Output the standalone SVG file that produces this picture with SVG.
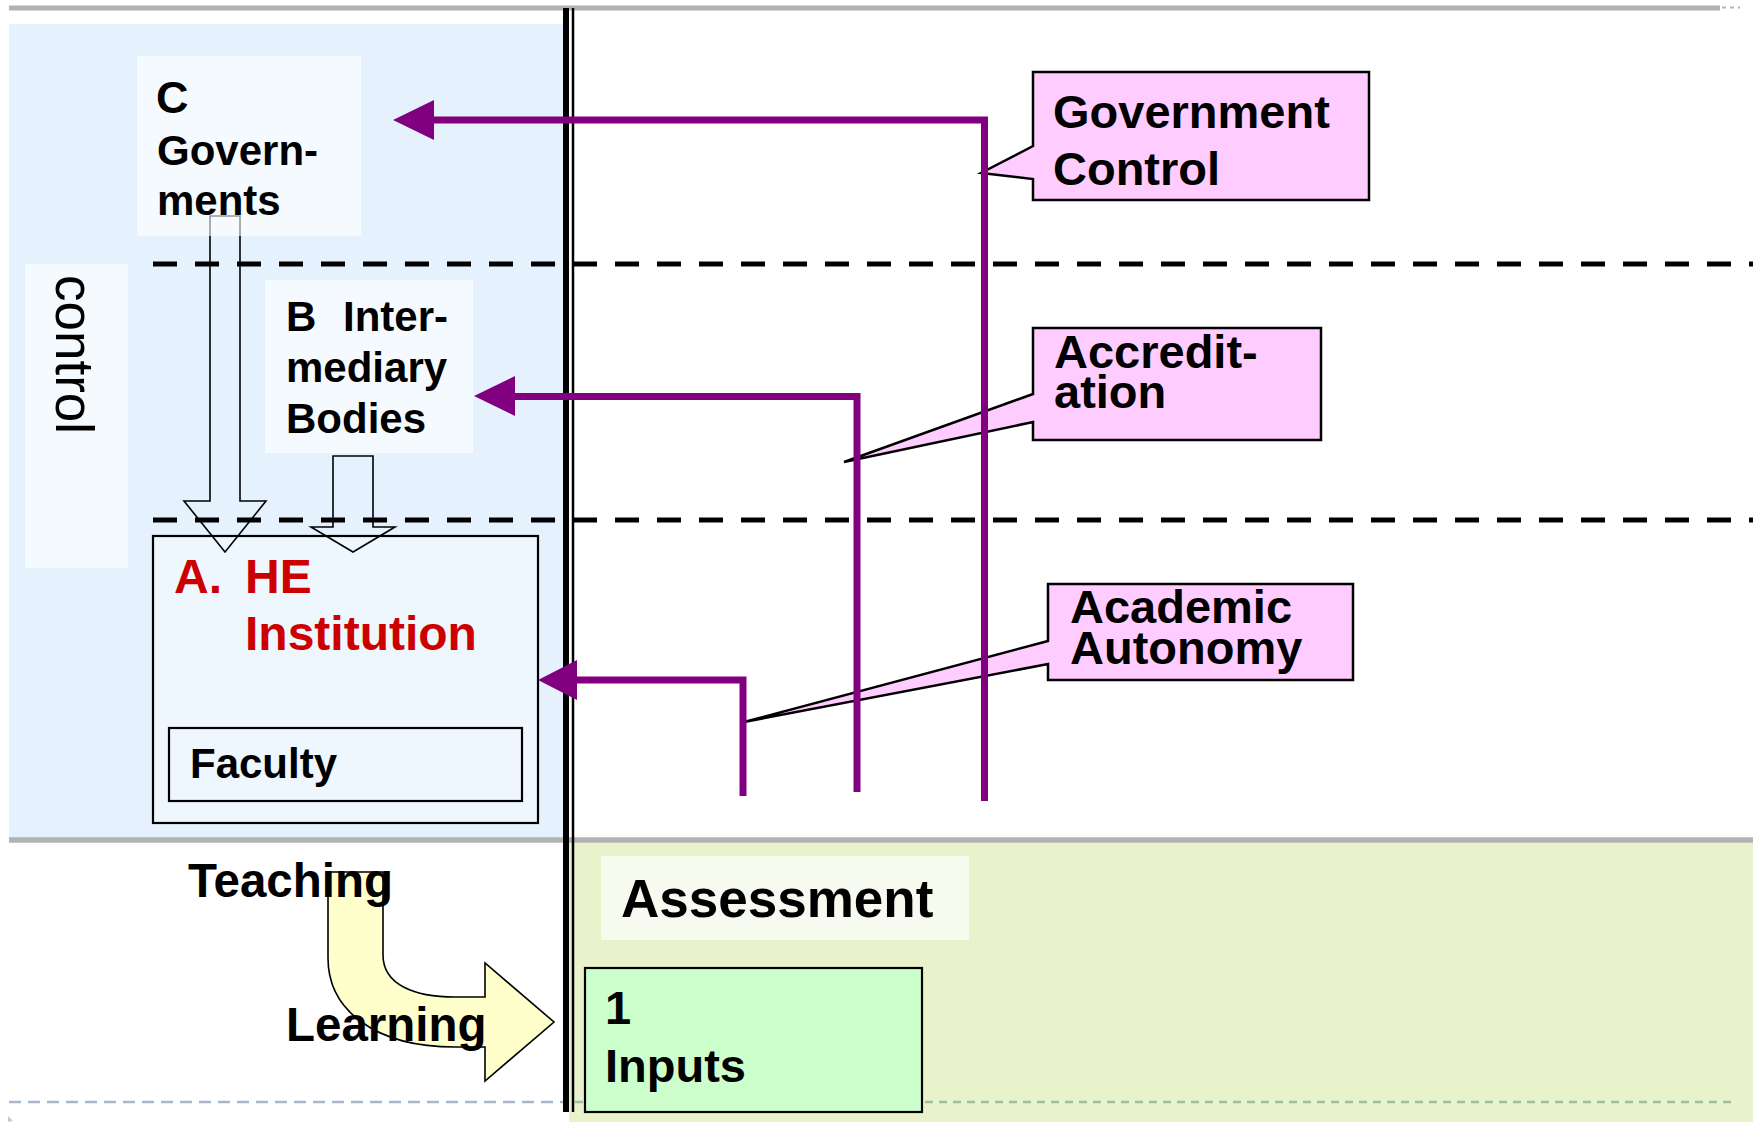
<svg xmlns="http://www.w3.org/2000/svg" width="1756" height="1122" viewBox="0 0 1756 1122">
<defs>
<style>
.t{font-family:"Liberation Sans",Arial,Helvetica,sans-serif;font-weight:bold;fill:#000}
.reg{font-weight:normal}
.red{fill:#cc0000}
.pl{fill:none;stroke:#800080;stroke-width:7;stroke-linejoin:miter}
.ph{fill:#800080}
.callout{fill:#ffccff;stroke:#000;stroke-width:2.5;stroke-linejoin:miter}
.hollow{fill:none;stroke:#000;stroke-width:1.6}
.dash{stroke:#000;stroke-width:5;stroke-dasharray:24 18;fill:none}
.panel{fill:#ffffff;fill-opacity:0.6}
.box{fill:#eff7fe;stroke:#000;stroke-width:2.2}
</style>
</defs>
<rect width="1756" height="1122" fill="#ffffff"/>
<g id="backgrounds">
<rect x="9" y="24" width="557" height="814" fill="#e5f2fd"/>
<rect x="569" y="843" width="1184" height="279" fill="#e8f3cc"/>
<line x1="9" y1="8" x2="1720" y2="8" stroke="#b2b2b2" stroke-width="5"/>
<line x1="1722" y1="7.5" x2="1740" y2="7.5" stroke="#a4b8cc" stroke-width="2" stroke-dasharray="4 4"/>
<line x1="9" y1="840" x2="1753" y2="840" stroke="#b2b2b2" stroke-width="5.5"/>
<line x1="9" y1="1102" x2="566" y2="1102" stroke="#a6b9cc" stroke-width="2.6" stroke-dasharray="12 7"/>
<line x1="575" y1="1102" x2="1737" y2="1102" stroke="#a0bfa4" stroke-width="2.6" stroke-dasharray="8 6"/>
<polygon points="8,1116 13,1121 8,1122" fill="#c0ccd8"/>
</g>
<g id="control">
<rect x="25" y="264" width="103" height="304" class="panel" fill-opacity="0.4"/>
<text class="t reg" font-size="53" transform="translate(56,275) rotate(90)">control</text>
</g>
<g id="node-A">
<rect x="153" y="536" width="385" height="287" class="box"/>
<text class="t red" font-size="48" x="174" y="593">A.</text>
<text class="t red" font-size="48" x="245" y="593">HE</text>
<text class="t red" font-size="48" x="245" y="650">Institution</text>
<g id="node-faculty">
<rect x="169" y="728" width="353" height="73" class="box"/>
<text class="t" font-size="42" x="190" y="778">Faculty</text>
</g>
</g>
<g id="hollow-arrows">
<path class="hollow" d="M210,216 L240,216 L240,501 L266,501 L225,552 L184,501 L210,501 Z"/>
<path class="hollow" d="M333,456 L373,456 L373,527 L395,527 L353,552 L311,527 L333,527 Z"/>
</g>
<g id="node-C">
<rect x="137" y="56" width="224" height="180" class="panel"/>
<text class="t" font-size="45" x="156" y="113">C</text>
<text class="t" font-size="42" x="157" y="165">Govern-</text>
<text class="t" font-size="42" x="157" y="215">ments</text>
</g>
<g id="node-B">
<rect x="265" y="280" width="208" height="173" class="panel"/>
<text class="t" font-size="42" x="286" y="331">B</text>
<text class="t" font-size="42" x="343" y="331">Inter-</text>
<text class="t" font-size="42" x="286" y="382">mediary</text>
<text class="t" font-size="42" x="286" y="433">Bodies</text>
</g>
<g id="level-lines">
<line class="dash" x1="153" y1="264" x2="1753" y2="264"/>
<line class="dash" x1="153" y1="520" x2="1753" y2="520"/>
</g>
<g id="divider">
<line x1="566" y1="8" x2="566" y2="1112" stroke="#000" stroke-width="6"/>
<line x1="573" y1="8" x2="573" y2="1112" stroke="#000" stroke-width="2.5"/>
</g>
<g id="callout-gov">
<path class="callout" d="M1033,72 L1369,72 L1369,200 L1033,200 L1033,179 L981,173 L1033,146 Z"/>
<text class="t" font-size="47" x="1053" y="128">Government</text>
<text class="t" font-size="47" x="1053" y="185">Control</text>
</g>
<g id="callout-accr">
<path class="callout" d="M1033,328 L1321,328 L1321,440 L1033,440 L1033,422 L844,462 L1033,394 Z"/>
<text class="t" font-size="47" x="1054" y="368">Accredit-</text>
<text class="t" font-size="47" x="1054" y="408">ation</text>
</g>
<g id="callout-acad">
<path class="callout" d="M1048,584 L1353,584 L1353,680 L1048,680 L1048,664 L744,722 L1048,641 Z"/>
<text class="t" font-size="47" x="1070" y="623">Academic</text>
<text class="t" font-size="47" x="1070" y="664">Autonomy</text>
</g>
<g id="connectors">
<polyline class="pl" points="432,120 984.5,120 984.5,801"/>
<polygon class="ph" points="393,120 434,100 434,140"/>
<polyline class="pl" points="513,396.5 857,396.5 857,792"/>
<polygon class="ph" points="474,396 515,376 515,416"/>
<polyline class="pl" points="575,680 743,680 743,796"/>
<polygon class="ph" points="538,680 577,660 577,700"/>
</g>
<g id="teaching-learning">
<path d="M328,872 L383,872 L383,955 C383,985 415,997 455,997 L485,997 L485,963 L554,1022 L485,1081 L485,1047 L455,1047 C375,1047 328,1010 328,958 Z" fill="#ffffcc" stroke="#000" stroke-width="1.6"/>
<text class="t" font-size="47.5" x="188" y="897">Teaching</text>
<text class="t" font-size="47.5" x="286" y="1041">Learning</text>
</g>
<g id="node-assessment">
<rect x="601" y="856" width="368" height="84" fill="#f6faef"/>
<text class="t" font-size="53" x="621" y="917">Assessment</text>
</g>
<g id="node-inputs">
<rect x="585" y="968" width="337" height="144" fill="#ccffcc" stroke="#000" stroke-width="2.2"/>
<text class="t" font-size="47" x="605" y="1024">1</text>
<text class="t" font-size="47" x="605" y="1082">Inputs</text>
</g>
</svg>
